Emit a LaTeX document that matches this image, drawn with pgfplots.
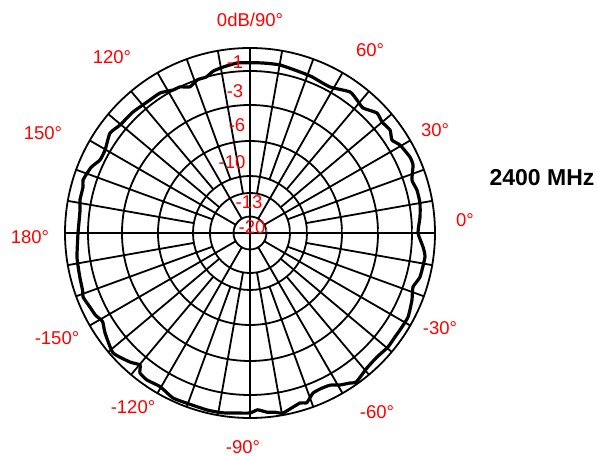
\documentclass[border=0pt]{standalone}
\usepackage{pgfplots}
\pgfplotsset{compat=1.18}
\usepgfplotslibrary{polar}
\usepackage{fontspec}
\setmainfont{Liberation Sans}
\definecolor{lblred}{RGB}{255,0,0}
\pgfplotstableread{
ang r
-180 172
-172 174.7
-165.5 175.8
-161 177
-159 178.8
-155 176.3
-152 175
-149 172
-145.4 176.1
-138.8 182
-132.9 176.2
-129.8 171.8
-128.2 178
-125 179.5
-120.3 178
-115 182.1
-109.3 181.5
-103.7 182.1
-99 182
-94.1 180.5
-90 180
-87.5 177
-84.6 180
-82 181
-79.6 183
-73.6 177.2
-71.5 179
-68.5 172
-65.1 171
-62.2 172
-59.4 176.6
-56.3 180.3
-54.5 183
-49.1 178.6
-44.3 177.5
-39.6 179
-35.6 178.4
-32.9 178.6
-28 179
-22.5 175.3
-18.3 171.7
-14.5 175.6
-7.8 176.6
-4.6 173.6
0 168
5.4 170.8
10 172.6
14.4 172.4
18.1 170.4
22.6 176.6
25.4 177.1
30.4 173.9
33.2 169.7
36.3 173.8
40 172.5
43.4 174.7
47.9 168.5
51.2 170.7
54.7 172.9
61.3 166.5
68.3 168
71.7 168.5
79.9 170.7
85.6 170.5
90 170.3
94.4 170.5
99.4 168
102.8 166
105.7 162
108.9 162
112.3 158
115.6 162
118.3 162.4
122.7 166.4
128.2 166.6
134 168.3
140.3 169
144.5 172
150.2 167
154 166.8
157.6 172
162.4 175.2
164.6 173.2
169 173.2
172.3 171.5
180 172
}\pattern
\begin{document}
\begin{tikzpicture}[x=1bp,y=1bp]
\useasboundingbox (-250,-224) rectangle (348,233);
\begin{polaraxis}[
  at={(0,0)}, anchor=center,
  scale only axis, width=370bp, height=370bp,
  xmin=0, xmax=360, ymin=0, ymax=185,
  xtick=\empty, ytick={16.5,40,57,92,128,162}, yticklabels={},
  ymajorgrids, major grid style={black, line width=1.8bp},
  axis line style={black, line width=1.8bp},
  clip=false,
]
\addplot[black, line width=1.8bp, forget plot] coordinates {(0,185) (0,0) (180,185)};
\addplot[black, line width=1.8bp, forget plot] coordinates {(90,185) (90,0) (270,185)};
\foreach \a in {30,60,120,150,210,240,300,330} {
  \edef\tmp{\noexpand\addplot[black, line width=1.8bp, forget plot] coordinates {(\a,16.5) (\a,185)};}\tmp
}
\foreach \a in {20,40,80,100,140,160,200,220,260,280,320,340} {
  \edef\tmp{\noexpand\addplot[black, line width=1.8bp, forget plot] coordinates {(\a,40) (\a,185)};}\tmp
}
\foreach \a in {10,50,70,110,130,170,190,230,250,290,310,350} {
  \edef\tmp{\noexpand\addplot[black, line width=1.8bp, forget plot] coordinates {(\a,57) (\a,185)};}\tmp
}
\addplot[black, line width=3.2bp, smooth, tension=0.3] table[x=ang, y=r] {\pattern};
\end{polaraxis}
\begin{scope}[every node/.style={text=lblred, font=\fontsize{18.5bp}{22bp}\selectfont, inner sep=0pt}]
\node at (0,213) {0dB/90°};
\node at (120,183) {60°};
\node at (-138,176) {120°};
\node at (185,103) {30°};
\node at (-207,100) {150°};
\node at (215,13) {0°};
\node at (-220,-4) {180°};
\node at (190,-95) {-30°};
\node at (-193,-105) {-150°};
\node at (127,-179) {-60°};
\node at (-117,-174) {-120°};
\node at (-7,-214) {-90°};
\node at (-15,171) {-1};
\node at (-15,142) {-3};
\node at (-13,108) {-6};
\node at (-18,71) {-10};
\node at (-1,31) {-13};
\node at (2,6) {-20};
\end{scope}
\node[font=\bfseries\fontsize{23bp}{26bp}\selectfont, inner sep=0pt] at (292,55) {2400 MHz};
\end{tikzpicture}
\end{document}
